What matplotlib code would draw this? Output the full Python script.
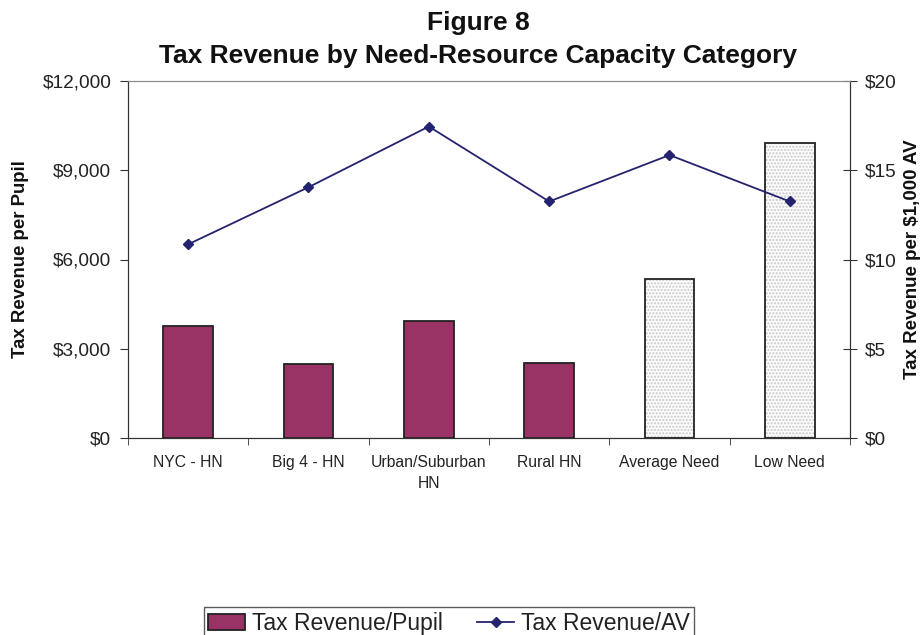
import numpy as np
import matplotlib.pyplot as plt
from matplotlib.ticker import FuncFormatter, FixedLocator
from matplotlib.lines import Line2D
from matplotlib.patches import Patch

plt.rcParams['font.family'] = ['Liberation Sans', 'DejaVu Sans']

# ----------------------------
# Data
# ----------------------------
categories = ['NYC - HN', 'Big 4 - HN', 'Urban/Suburban\nHN', 'Rural HN',
              'Average Need', 'Low Need']
revenue_per_pupil = [3760, 2480, 3940, 2520, 5340, 9910]   # $ per pupil
revenue_per_av = [10.85, 14.05, 17.45, 13.25, 15.85, 13.25]  # $ per $1,000 AV
high_need = [True, True, True, True, False, False]

BAR_COLOR = '#993366'
LINE_COLOR = '#23236f'
EDGE = '#222222'

fig = plt.figure(figsize=(9.23, 6.35), dpi=100)
ax = fig.add_axes([128/923, 1 - 438/635, 722/923, 357/635])
ax2 = ax.twinx()

x = np.arange(len(categories))
w = 0.41

# high need bars: solid plum
for xi, v, hn in zip(x, revenue_per_pupil, high_need):
    if hn:
        ax.bar(xi, v, w, color=BAR_COLOR, edgecolor=EDGE, linewidth=1.3, zorder=2)
    else:
        # dotted fill first, outline on top
        ax.bar(xi, v, w, color='#fbfbfb', edgecolor='#c8c8c8', hatch='.....',
               linewidth=0, zorder=2)
        ax.bar(xi, v, w, color='none', edgecolor=EDGE, linewidth=1.3, zorder=3)

ax2.plot(x, revenue_per_av, color=LINE_COLOR, linewidth=1.3, marker='D',
         markersize=5.5, zorder=4)

ax.set_xlim(-0.5, 5.5)
ax.set_ylim(0, 12000)
ax2.set_ylim(0, 20)

ax.set_yticks(np.arange(0, 12001, 3000))
ax.yaxis.set_major_formatter(FuncFormatter(lambda v, p: '${:,.0f}'.format(v)))
ax2.set_yticks(np.arange(0, 21, 5))
ax2.yaxis.set_major_formatter(FuncFormatter(lambda v, p: '${:.0f}'.format(v)))

ax.set_xticks(x)
ax.set_xticklabels(categories, fontsize=11.3, color='#222222', linespacing=1.5)
ax.xaxis.set_minor_locator(FixedLocator(np.arange(-0.5, 6, 1)))
ax.tick_params(axis='x', which='major', length=0, pad=12)
ax.tick_params(axis='x', which='minor', length=5, direction='out', color='#333333')

ax.tick_params(axis='y', labelsize=13.7, length=6, direction='out',
               color='#333333', labelcolor='#222222', pad=6)
ax2.tick_params(axis='y', labelsize=13.7, length=10, direction='inout',
                color='#333333', labelcolor='#222222', pad=6)

for a in (ax, ax2):
    a.spines['top'].set_color('#8c8c8c')
    a.spines['left'].set_color('#333333')
    a.spines['bottom'].set_color('#333333')
    a.spines['right'].set_color('#333333')

ax.set_ylabel('Tax Revenue per Pupil', fontsize=13.4, fontweight='bold',
              color='#111111', va='center')
ax.yaxis.set_label_coords((20 - 128) / 722, 0.5)
ax2.set_ylabel('Tax Revenue per $1,000 AV', fontsize=13.5, fontweight='bold',
               color='#111111', rotation=90, va='center')
ax2.yaxis.set_label_coords((913 - 128) / 722, 0.5)

fig.text(478/923, 1 - 30/635, 'Figure 8', ha='center', va='baseline',
         fontsize=19, fontweight='bold', color='#111111')
fig.text(478/923, 1 - 63/635, 'Tax Revenue by Need-Resource Capacity Category',
         ha='center', va='baseline', fontsize=19, fontweight='bold',
         color='#111111')

handles = [Patch(facecolor=BAR_COLOR, edgecolor=EDGE, linewidth=1.3),
           Line2D([0], [0], color=LINE_COLOR, linewidth=1.3, marker='D',
                  markersize=5)]
leg = fig.legend(handles, ['Tax Revenue/Pupil', 'Tax Revenue/AV'],
                 loc='upper center', bbox_to_anchor=(449/923, 1 - 607/635),
                 borderaxespad=0, ncol=2, frameon=True, fancybox=False,
                 fontsize=16.5, handlelength=1.6, handletextpad=0.3,
                 columnspacing=1.5, borderpad=0.2, labelcolor='#222222')
leg.get_frame().set_edgecolor('#333333')
leg.get_frame().set_linewidth(1.0)

fig.savefig('out.png', dpi=100)
